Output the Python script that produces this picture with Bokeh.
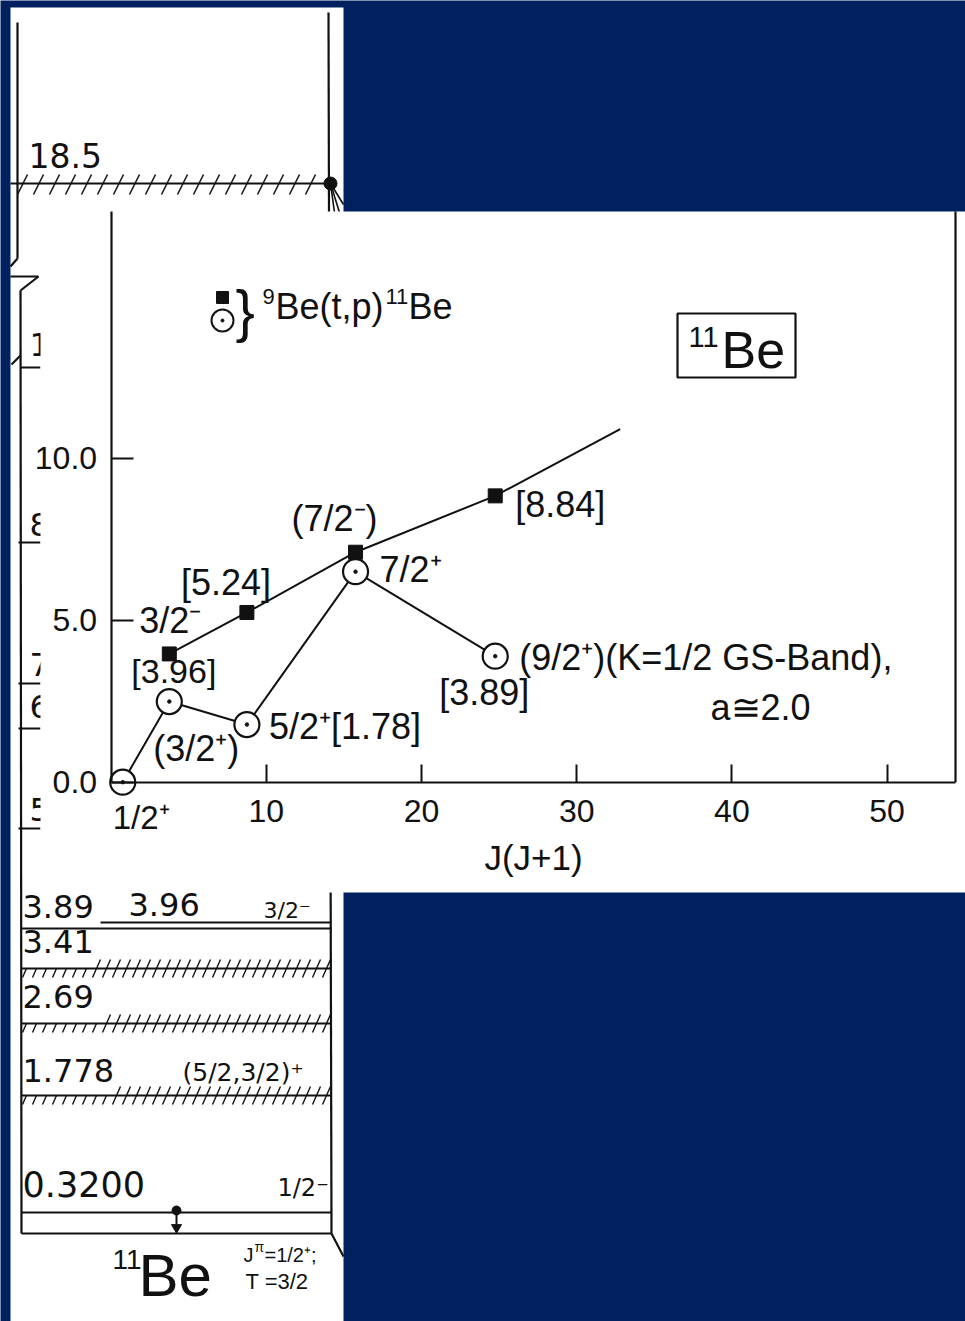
from bokeh.plotting import figure
from bokeh.models import Range1d, LinearAxis, FixedTicker, PrintfTickFormatter, Grid
from bokeh.core.properties import value
from bokeh.embed import file_html
from bokeh.resources import INLINE
import numpy as np

# ---------------- data: 11Be rotational bands, E (MeV) versus J(J+1) ----------------
NEG_JJ = [3.75, 8.75, 15.75, 24.75]          # 3/2-, 5/2-, (7/2-), 9/2-
NEG_E = [3.96, 5.24, 7.1, 8.84]
NEG_LINE_JJ = [3.75, 8.75, 15.75, 24.75, 32.8]
NEG_LINE_E = [3.96, 5.24, 7.1, 8.84, 10.9]

POS_JJ = [0.75, 3.75, 8.75, 15.75, 24.75]    # 1/2+, (3/2+), 5/2+, 7/2+, (9/2+)
POS_E = [0.0, 2.49, 1.78, 6.5, 3.89]

X_TICKS = [10, 20, 30, 40, 50]
Y_TICKS = [0, 5, 10]
X_TITLE = "J(J+1)"

# level scheme of 11Be (schematic, not to scale)
LEVEL_LABELS = ["18.5", "3.89", "3.96", "3.41", "2.69", "1.778", "0.3200"]
LEVEL_SPINS = ["", "", "3/2⁻", "", "", "(5/2,3/2)⁺", "1/2⁻"]

# ---------------- page layout (pixels) ----------------
W, H = 965, 1321
NAVY = "#002060"
INK = "#111111"
FONT = "Liberation Sans"
FONT2 = "DejaVu Sans"

# chart placement: pixel position of the origin and pixels per unit
X0_PX, X_PX_PER = 110.6, 15.52
Y0_PX, Y_PX_PER = 781.7, 32.39
INSET_LEFT, INSET_TOP, INSET_BOTTOM = 40, 211, 892
FRAME_RIGHT_PX = 955

p = figure(width=W, height=H, x_range=Range1d(0, W), y_range=Range1d(H, 0),
           x_axis_location=None, y_axis_location=None, toolbar_location=None,
           output_backend="svg", min_border=0, title=None)
p.min_border_left = p.min_border_right = p.min_border_top = p.min_border_bottom = 0
p.outline_line_color = None
p.background_fill_color = NAVY
p.border_fill_color = NAVY
p.center = [c for c in p.center if not isinstance(c, Grid)]

p.extra_x_ranges = {"jj": Range1d((0 - X0_PX) / X_PX_PER, (W - X0_PX) / X_PX_PER)}
p.extra_y_ranges = {"e": Range1d((Y0_PX - H) / Y_PX_PER, Y0_PX / Y_PX_PER)}
XB = (FRAME_RIGHT_PX - X0_PX) / X_PX_PER
YB = (Y0_PX - INSET_TOP) / Y_PX_PER
D = dict(x_range_name="jj", y_range_name="e")


def txt(x, y, s, size, font=FONT, align="left", **kw):
    # y is the vertical centre of the text
    p.text(x=[x], y=[y], text=[s], text_font=value(font), text_font_size=f"{size}px",
           text_align=align, text_baseline="middle", text_color=INK, **kw)


def segs(pts, width=2.0):
    p.segment(x0=[a[0] for a in pts], y0=[a[1] for a in pts],
              x1=[a[2] for a in pts], y1=[a[3] for a in pts],
              line_color=INK, line_width=width)


def hatch(y, x_lo, x_up0, x_hi, step=10):
    xs = np.arange(x_lo, x_hi, step)
    lower = [(x - 4, y + 9, x, y) for x in xs]
    upper = [(x, y, x + 4, y - 9) for x in xs if x >= x_up0]
    segs(lower + upper, 1.4)


# ---------------- level scheme panel ----------------
p.quad(left=[10], right=[343], top=[7], bottom=[H], fill_color="white", line_color=None)

segs([(17, 22, 17, 258), (17, 258, 10, 266),
      (10, 276, 38, 276), (38, 276, 20, 290), (20, 290, 21, 1233),
      (20, 355, 11, 364), (20, 367, 40, 367),
      (328, 12, 331, 1233), (331, 1233, 343, 1256)], 2.2)

# 18.5 MeV broad level with decay dot
segs([(10, 183, 330, 183)], 2.0)
xs = np.arange(22, 322, 16)
segs([(x - 5, 194, x + 5, 174) for x in xs], 1.6)
p.scatter(x=[330], y=[183], marker="circle", size=13, color=INK)
segs([(330, 183, 334, 212), (330, 183, 339, 212), (330, 183, 343, 204)], 1.6)
txt(28, 155, LEVEL_LABELS[0], 33, FONT2)

# partly hidden levels at the left edge
segs([(18, 542, 40, 542), (18, 683, 40, 683), (18, 728, 40, 728), (18, 828, 40, 828)], 2.0)
for ch, yc in [("1", 344), ("8", 524), ("7", 664), ("6", 706), ("5", 809)]:
    txt(29, yc, ch, 32, FONT2)

# lower levels
segs([(100, 922, 331, 922), (21, 928, 331, 928),
      (21, 968, 331, 968), (21, 1023, 331, 1023), (21, 1095, 331, 1095),
      (21, 1212, 331, 1212), (21, 1233, 331, 1233)], 2.0)
hatch(968, 26, 92, 328)
hatch(1023, 26, 102, 328)
hatch(1095, 26, 112, 328)
txt(22, 906, LEVEL_LABELS[1], 32, FONT2)
txt(128, 904, LEVEL_LABELS[2], 32, FONT2)
txt(263, 910, LEVEL_SPINS[2], 22, FONT2)
txt(22, 941, LEVEL_LABELS[3], 32, FONT2)
txt(22, 996, LEVEL_LABELS[4], 32, FONT2)
txt(22, 1070, LEVEL_LABELS[5], 32, FONT2)
txt(182, 1072, LEVEL_SPINS[5], 25, FONT2)
txt(22, 1183, LEVEL_LABELS[6], 35, FONT2)
txt(277, 1187, LEVEL_SPINS[6], 24, FONT2)

# gamma decay arrow to the ground state
p.scatter(x=[176], y=[1210], marker="circle", size=9, color=INK)
segs([(176, 1210, 176, 1224)], 2.0)
p.scatter(x=[176], y=[1227], marker="inverted_triangle", size=10, color=INK)

txt(112, 1259, "11", 28)
txt(138, 1275, "Be", 60)
txt(243, 1254, "J", 20)
txt(254, 1246, "π", 14)
txt(264, 1254, "=1/2⁺;", 20)
txt(245, 1281, "T =3/2", 22)

# ---------------- inset chart ----------------
p.quad(left=[INSET_LEFT], right=[W], top=[INSET_TOP], bottom=[INSET_BOTTOM],
       fill_color="white", line_color=None)

yaxis = LinearAxis(fixed_location=0, bounds=(0, YB), ticker=FixedTicker(ticks=Y_TICKS, minor_ticks=[]),
                   formatter=PrintfTickFormatter(format="%.1f"), **D)
xaxis = LinearAxis(fixed_location=0, bounds=(0, XB), ticker=FixedTicker(ticks=X_TICKS, minor_ticks=[]),
                   axis_label=X_TITLE, **D)
for ax, tin in [(yaxis, 22), (xaxis, 18)]:
    ax.axis_line_color = INK
    ax.axis_line_width = 2.2
    ax.major_tick_line_color = INK
    ax.major_tick_line_width = 2.0
    ax.major_tick_in = tin
    ax.major_tick_out = 0
    ax.minor_tick_line_color = None
    ax.major_label_text_font = FONT
    ax.major_label_text_font_size = "32px"
    ax.major_label_text_color = INK
yaxis.major_label_standoff = 14
xaxis.major_label_standoff = 18
xaxis.axis_label_text_font = FONT
xaxis.axis_label_text_font_size = "35px"
xaxis.axis_label_text_font_style = "normal"
xaxis.axis_label_text_color = INK
xaxis.axis_label_standoff = 12
p.add_layout(yaxis, "left")
p.add_layout(xaxis, "below")

# right edge of the frame
p.segment(x0=[XB], y0=[0], x1=[XB], y1=[YB], line_color=INK, line_width=2.2, **D)

# negative-parity band (filled squares) and positive-parity band (dotted circles)
p.line(NEG_LINE_JJ, NEG_LINE_E, line_color=INK, line_width=2.0, **D)
p.line(POS_JJ, POS_E, line_color=INK, line_width=2.0, **D)
p.scatter(NEG_JJ, NEG_E, marker="square", size=14, color=INK, **D)
p.scatter(POS_JJ, POS_E, marker="circle", size=25, fill_color="white",
          line_color=INK, line_width=2.2, **D)
p.scatter(POS_JJ, POS_E, marker="circle", size=3.5, color=INK, **D)

# state labels, anchored to their points (offsets in pixels, positive = down)
LS = 36
txt(NEG_JJ[0], NEG_E[0], "3/2⁻", LS, align="right", x_offset=32, y_offset=-33, **D)
txt(NEG_JJ[0], NEG_E[0], f"[{NEG_E[0]:.2f}]", 34, x_offset=-38, y_offset=17, **D)
txt(NEG_JJ[1], NEG_E[1], f"[{NEG_E[1]:.2f}]", LS, x_offset=-66, y_offset=-30, **D)
txt(NEG_JJ[2], NEG_E[2], "(7/2⁻)", LS, align="right", x_offset=22, y_offset=-34, **D)
txt(NEG_JJ[3], NEG_E[3], f"[{NEG_E[3]:.2f}]", LS, x_offset=20, y_offset=9, **D)
txt(POS_JJ[0], POS_E[0], "1/2⁺", 33, x_offset=-10, y_offset=35, **D)
txt(POS_JJ[1], POS_E[1], "(3/2⁺)", LS, x_offset=-16, y_offset=47, **D)
txt(POS_JJ[2], POS_E[2], f"5/2⁺[{POS_E[2]:.2f}]", LS, x_offset=22, y_offset=2, **D)
txt(POS_JJ[3], POS_E[3], "7/2⁺", LS, x_offset=24, y_offset=-2, **D)
txt(POS_JJ[4], POS_E[4], "(9/2⁺)(K=1/2 GS-Band),", LS, x_offset=24, y_offset=1, **D)
txt(POS_JJ[4], POS_E[4], f"[{POS_E[4]:.2f}]", LS, x_offset=-56, y_offset=36, **D)
txt(710, 707, "a≅2.0", LS)

# legend
p.scatter(x=[222], y=[297], marker="square", size=12, color=INK)
p.scatter(x=[222], y=[320], marker="circle", size=22, fill_color="white", line_color=INK, line_width=2)
p.scatter(x=[222], y=[320], marker="circle", size=3, color=INK)
txt(235, 310, "}", 58)
txt(262, 296, "9", 22)
txt(275, 306, "Be(t,p)", 36)
txt(385, 296, "11", 22)
txt(408, 306, "Be", 36)

# nucleus box
p.quad(left=[677], right=[795], top=[313], bottom=[377], fill_color=None, line_color=INK, line_width=2.2)
txt(688, 336, "11", 29)
txt(721, 349, "Be", 52)

open("out.html", "w").write(file_html(p, INLINE))
